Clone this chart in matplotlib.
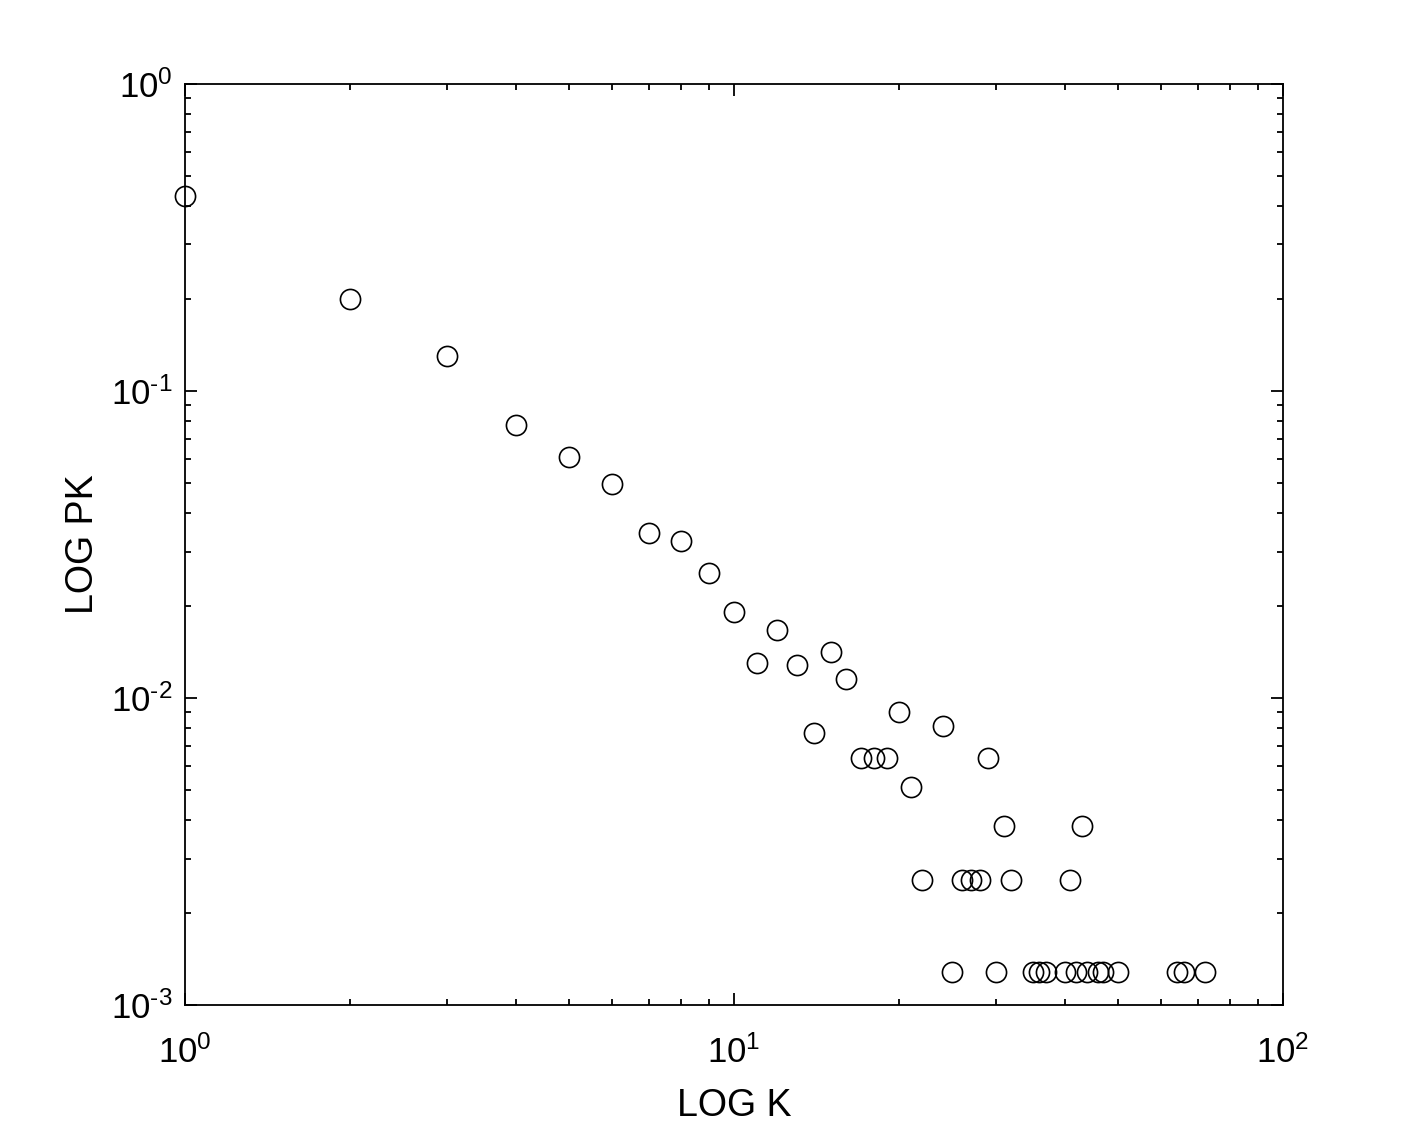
import numpy as np
import matplotlib
matplotlib.use('Agg')
import matplotlib.pyplot as plt
from matplotlib.ticker import FuncFormatter

plt.rcParams['font.family'] = ['Liberation Sans', 'DejaVu Sans']
plt.rcParams['mathtext.fontset'] = 'custom'
plt.rcParams['mathtext.rm'] = 'Liberation Sans'
plt.rcParams['axes.unicode_minus'] = False

# degree k and probability P(k)
k_vals = [1, 2, 3, 4, 5, 6, 7, 8, 9, 10, 11, 12, 13, 14, 15, 16, 17, 18, 19, 20,
          21, 22, 24, 25, 26, 27, 28, 29, 30, 31, 32, 35, 36, 37, 40, 41, 42, 43,
          44, 46, 47, 50, 64, 66, 72]
pk_vals = [0.432, 0.200, 0.130, 0.0775, 0.061, 0.0498, 0.0345, 0.0325, 0.0256, 0.0190,
           0.0130, 0.0167, 0.0128, 0.00768, 0.0141, 0.0115, 0.0064, 0.0064, 0.0064, 0.0090,
           0.00512, 0.00256, 0.0081, 0.00128, 0.00256, 0.00256, 0.00256, 0.0064, 0.00128, 0.00384,
           0.00256, 0.00128, 0.00128, 0.00128, 0.00128, 0.00256, 0.00128, 0.00384,
           0.00128, 0.00128, 0.00128, 0.00128, 0.00128, 0.00128, 0.00128]


def pow10_label(v, pos):
    e = int(round(np.log10(v)))
    if e < 0:
        return r'$\mathdefault{10^{\text{-}%d}}$' % (-e)
    return r'$\mathdefault{10^{%d}}$' % e


fig = plt.figure(figsize=(14.18, 11.30), dpi=100)
ax = fig.add_axes([0.1305, 0.1106, 0.7743, 0.8151])

ax.plot(k_vals, pk_vals, linestyle='none', marker='o', markersize=14.5,
        markerfacecolor='none', markeredgecolor='black', markeredgewidth=1.2,
        clip_on=False)

ax.set_xscale('log')
ax.set_yscale('log')
ax.set_xlim(1, 100)
ax.set_ylim(1e-3, 1)
ax.xaxis.set_major_formatter(FuncFormatter(pow10_label))
ax.yaxis.set_major_formatter(FuncFormatter(pow10_label))

for s in ax.spines.values():
    s.set_linewidth(1.3)

ax.tick_params(which='both', direction='in', top=True, right=True, width=1.3)
ax.tick_params(which='major', length=8.5, labelsize=25)
ax.tick_params(which='minor', length=4.3)
ax.tick_params(axis='x', which='major', pad=22)
ax.tick_params(axis='y', which='major', pad=9)

ax.set_xlabel('LOG K', fontsize=27, labelpad=13)
ax.set_ylabel('LOG PK', fontsize=27, labelpad=7)

plt.savefig('out.png', dpi=100)
